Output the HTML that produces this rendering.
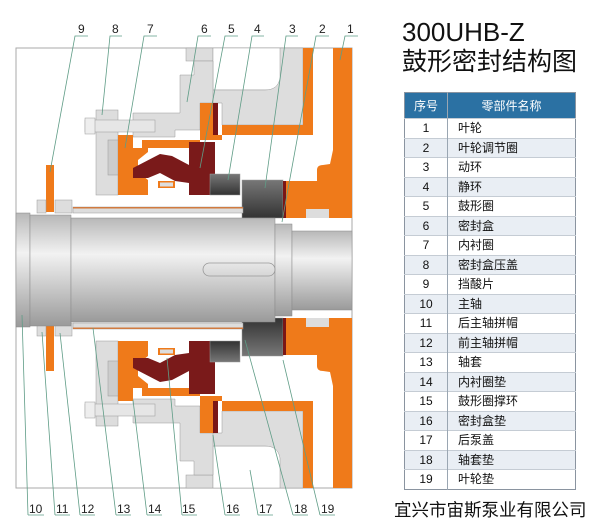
<!DOCTYPE html>
<html><head><meta charset="utf-8"><style>
body{margin:0;width:600px;height:529px;background:#fff;position:relative;overflow:hidden;font-family:"Liberation Sans","Noto Sans CJK SC",sans-serif}
.t1{position:absolute;left:402px;top:18px;font-size:26px;color:#111;line-height:28px;white-space:nowrap}
.t2{position:absolute;left:402px;top:48px;font-size:25px;color:#111;line-height:28px;white-space:nowrap}
table{position:absolute;left:404px;top:92px;width:172px;border-collapse:collapse;font-size:12px;line-height:14px;color:#111;border:1px solid #8a94a0}
th{background:#2b71a3;color:#fff;font-weight:normal;height:25px;padding:0}
td{height:18.5px;padding:0;border-top:1px solid #c5ccd4}
td:first-child,th:first-child{width:42px;text-align:center;border-right:1px solid #9aa6b2}
td:last-child{padding-left:10px}
tr:nth-child(odd) td{background:#e9eef4}
.co{position:absolute;left:394px;top:497px;font-size:17.5px;color:#111;white-space:nowrap}
</style></head><body>
<div class="t1">300UHB-Z</div>
<div class="t2">鼓形密封结构图</div>
<table>
<tr><th>序号</th><th>零部件名称</th></tr>
<tr><td>1</td><td>叶轮</td></tr>
<tr><td>2</td><td>叶轮调节圈</td></tr>
<tr><td>3</td><td>动环</td></tr>
<tr><td>4</td><td>静环</td></tr>
<tr><td>5</td><td>鼓形圈</td></tr>
<tr><td>6</td><td>密封盒</td></tr>
<tr><td>7</td><td>内衬圈</td></tr>
<tr><td>8</td><td>密封盒压盖</td></tr>
<tr><td>9</td><td>挡酸片</td></tr>
<tr><td>10</td><td>主轴</td></tr>
<tr><td>11</td><td>后主轴拼帽</td></tr>
<tr><td>12</td><td>前主轴拼帽</td></tr>
<tr><td>13</td><td>轴套</td></tr>
<tr><td>14</td><td>内衬圈垫</td></tr>
<tr><td>15</td><td>鼓形圈撑环</td></tr>
<tr><td>16</td><td>密封盒垫</td></tr>
<tr><td>17</td><td>后泵盖</td></tr>
<tr><td>18</td><td>轴套垫</td></tr>
<tr><td>19</td><td>叶轮垫</td></tr>
</table>
<div class="co">宜兴市宙斯泵业有限公司</div>
<svg width="380" height="529" style="position:absolute;left:0;top:0">
<defs>
<linearGradient id="sh" x1="0" y1="0" x2="0" y2="1">
<stop offset="0" stop-color="#b8b8b8"/><stop offset="0.35" stop-color="#f2f2f2"/><stop offset="1" stop-color="#9a9a9a"/></linearGradient>
<linearGradient id="dg" x1="0" y1="0" x2="0" y2="1">
<stop offset="0" stop-color="#777"/><stop offset="0.5" stop-color="#555"/><stop offset="1" stop-color="#333"/></linearGradient>
<g id="half" stroke="#999" stroke-width="0.5">
<rect x="186" y="48" width="27" height="13" fill="#ddd"/>
<rect x="213" y="48" width="90" height="42" fill="#fff"/>
<path d="M203,90 L265,90 Q278,90 280,78 L280,48 L303,48 L303,125 L222,125 L222,103 L203,103 Z" fill="#ddd"/>
<path d="M180,75 L194,75 L194,61 L213,61 L213,103 L200,103 L200,130 L175,130 L175,137 L133,137 L133,113 L180,113 Z" fill="#ddd"/>
<rect x="96" y="110" width="22" height="85" fill="#ddd"/>
<rect x="108" y="140" width="10" height="35" fill="#ccc"/>
<path d="M303,48 L313,48 L313,135 L217,135 L217,103 L200,103 L200,140 L142,140 L142,148 L133,148 L133,135 L118,135 L118,195 L148,195 L148,180 L138,172 L138,160 L148,152 L148,148 L200,148 L200,140 L222,140 L222,125 L303,125 Z" fill="#ef7a1a" stroke="none"/>
<rect x="213" y="103" width="5" height="32" fill="#7a1616" stroke="none"/>
<path d="M333,48 L352,48 L352,218 L329,218 L329,209 L306,209 L306,218 L286,218 L286,181 L317,181 L317,170 Q317,165 323,165 L330,164 L333,150 Z" fill="#ef7a1a" stroke="none"/>
<rect x="306" y="209" width="23" height="9" fill="#ddd" stroke="none"/>
<path d="M133,168 L160,154 L172,156 L189,165 L189,142 L215,142 L215,195 L189,195 L189,183 L175,181 L160,173 L148,178 L133,178 Z" fill="#7a1a1a" stroke="none"/>
<rect x="158" y="181" width="17" height="7" fill="#ef7a1a" stroke="none"/>
<rect x="160" y="182.5" width="13" height="4" fill="#ddd" stroke="none"/>
<rect x="210" y="174" width="30" height="21" fill="url(#dg)"/>
<rect x="242" y="180" width="41" height="38" fill="url(#dg)"/>
<rect x="283" y="181" width="3" height="37" fill="#7a1616" stroke="none"/>
<rect x="73" y="207" width="170" height="6" fill="#ddd"/>
<rect x="73" y="207" width="170" height="1.5" fill="#d07a40" stroke="none"/>
<rect x="46" y="165" width="8" height="47" fill="#ef7a1a" stroke="none"/>
<rect x="37" y="200" width="9" height="13" fill="#ddd"/>
<rect x="55" y="200" width="17" height="13" fill="#ddd"/>
<rect x="85" y="120" width="70" height="12" fill="#e6e6e6"/>
<rect x="85" y="118" width="10" height="16" fill="#eee"/>
</g>
</defs>
<rect x="16" y="48" width="336" height="440" fill="#fff" stroke="#aaa" stroke-width="1"/>
<use href="#half"/>
<use href="#half" transform="matrix(1 0 0 -1 0 536)"/>
<rect x="16" y="213" width="14" height="114" fill="url(#sh)" stroke="#888" stroke-width="0.5"/>
<rect x="30" y="215" width="41" height="111" fill="url(#sh)" stroke="#888" stroke-width="0.5"/>
<rect x="71" y="218" width="204" height="104" fill="url(#sh)" stroke="#888" stroke-width="0.5"/>
<rect x="275" y="224" width="17" height="92" fill="url(#sh)" stroke="#888" stroke-width="0.5"/>
<rect x="292" y="231" width="60" height="79" fill="url(#sh)" stroke="#888" stroke-width="0.5"/>
<rect x="203" y="263" width="72" height="13" rx="6.5" fill="none" stroke="#999" stroke-width="0.8"/>
<g stroke="#5f9c86" stroke-width="0.8" fill="none">
<path d="M88,36 L75,36 L50,172"/><path d="M122,36 L110,36 L102,115"/><path d="M157,36 L144,36 L125,148"/>
<path d="M211,36 L198,36 L187,102"/><path d="M238,36 L225,36 L200,168"/><path d="M264,36 L252,36 L228,180"/>
<path d="M298,36 L286,36 L265,188"/><path d="M329,36 L316,36 L282,222"/><path d="M358,36 L345,36 L340,60"/>
<path d="M28,515 L44,515 M28,515 L22,315"/><path d="M55,515 L70,515 M55,515 L42,332"/><path d="M80,515 L95,515 M80,515 L60,333"/>
<path d="M116,515 L131,515 M116,515 L93,328"/><path d="M147,515 L162,515 M147,515 L133,400"/><path d="M182,515 L197,515 M182,515 L167,358"/>
<path d="M225,515 L240,515 M225,515 L213,435"/><path d="M258,515 L273,515 M258,515 L250,470"/><path d="M293,515 L308,515 M293,515 L245,340"/>
<path d="M320,515 L335,515 M320,515 L283,360"/>
</g>
<g font-family="Liberation Sans,sans-serif" font-size="12" fill="#222">
<text x="78" y="33">9</text><text x="112" y="33">8</text><text x="147" y="33">7</text><text x="201" y="33">6</text>
<text x="228" y="33">5</text><text x="254" y="33">4</text><text x="289" y="33">3</text><text x="319" y="33">2</text><text x="347" y="33">1</text>
<text x="29" y="513">10</text><text x="56" y="513">11</text><text x="81" y="513">12</text><text x="117" y="513">13</text>
<text x="148" y="513">14</text><text x="182" y="513">15</text><text x="226" y="513">16</text><text x="259" y="513">17</text>
<text x="294" y="513">18</text><text x="321" y="513">19</text>
</g>
</svg>
</body></html>
